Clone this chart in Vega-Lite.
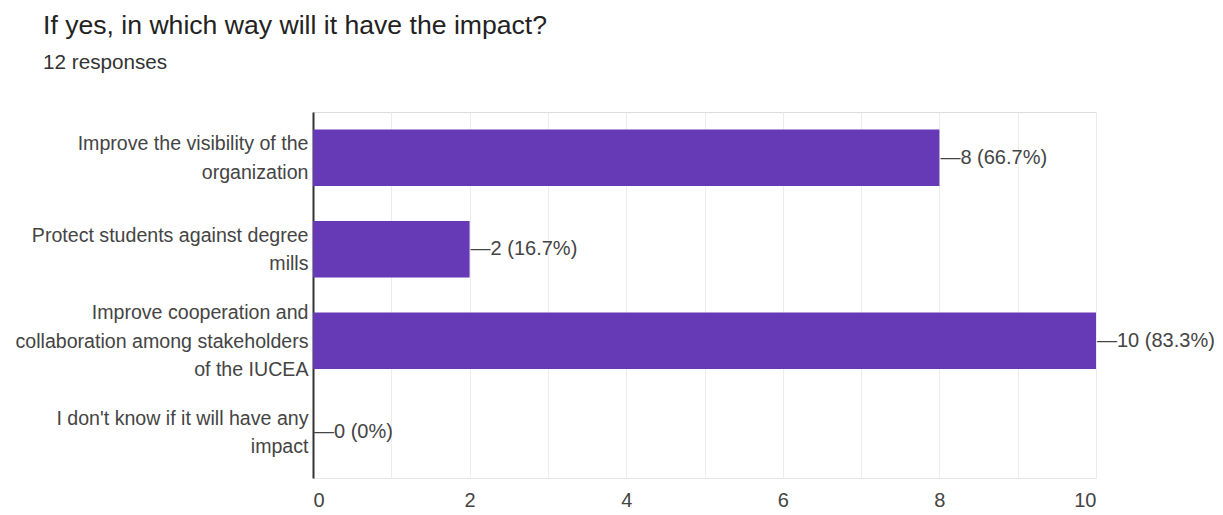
{
  "$schema": "https://vega.github.io/schema/vega-lite/v6.json",
  "autosize": "none",
  "width": 783,
  "height": 366,
  "padding": {"left": 313, "top": 112, "right": 127, "bottom": 37},
  "background": "white",
  "title": {
    "text": "If yes, in which way will it have the impact?",
    "subtitle": "12 responses",
    "anchor": "start",
    "frame": "group",
    "dx": -270,
    "offset": 39,
    "font": "Liberation Sans",
    "fontSize": 26.6,
    "fontWeight": "normal",
    "color": "#222222",
    "subtitleFont": "Liberation Sans",
    "subtitleFontSize": 20.7,
    "subtitleColor": "#333333",
    "subtitlePadding": 14
  },
  "data": {
    "values": [
      {"answer": "Improve the visibility of the|organization", "count": 8, "label": "8 (66.7%)"},
      {"answer": "Protect students against degree|mills", "count": 2, "label": "2 (16.7%)"},
      {"answer": "Improve cooperation and|collaboration among stakeholders|of the IUCEA", "count": 10, "label": "10 (83.3%)"},
      {"answer": "I don't know if it will have any|impact", "count": 0, "label": "0 (0%)"}
    ]
  },
  "encoding": {
    "y": {
      "field": "answer",
      "type": "nominal",
      "sort": null,
      "title": null,
      "scale": {"paddingInner": 0.38, "paddingOuter": 0.19},
      "axis": {
        "labelExpr": "split(datum.label, '|')",
        "labelFont": "Liberation Sans",
        "labelFontSize": 19.6,
        "labelColor": "#444444",
        "labelLineHeight": 28.5,
        "labelBaseline": "middle",
        "labelOffset": {"condition": {"test": "length(split(datum.value, '|')) == 3", "value": -27.5}, "value": -13.5},
        "labelLimit": 400,
        "labelPadding": 5,
        "ticks": false,
        "domainColor": "#333333",
        "domainWidth": 2,
        "grid": false
      }
    }
  },
  "layer": [
    {
      "mark": {"type": "bar", "color": "#6639B7"},
      "encoding": {
        "x": {
          "field": "count",
          "type": "quantitative",
          "title": null,
          "scale": {"domain": [0, 10], "nice": false},
          "axis": {
            "values": [0, 1, 2, 3, 4, 5, 6, 7, 8, 9, 10],
            "labelExpr": "datum.value % 2 == 0 ? format(datum.value, 'd') : ''",
            "labelFont": "Liberation Sans",
            "labelFontSize": 20,
            "labelColor": "#444444",
            "labelPadding": 12,
            "ticks": false,
            "domainColor": "#e6e6e6",
            "gridColor": "#ececec",
            "gridWidth": 1
          }
        }
      }
    },
    {
      "transform": [{"calculate": "'\u2014' + datum.label", "as": "shown"}],
      "mark": {"type": "text", "align": "left", "baseline": "middle", "dx": 1, "font": "Liberation Sans", "fontSize": 20, "color": "#444444"},
      "encoding": {
        "x": {"field": "count", "type": "quantitative"},
        "text": {"field": "shown"}
      }
    }
  ]
}
